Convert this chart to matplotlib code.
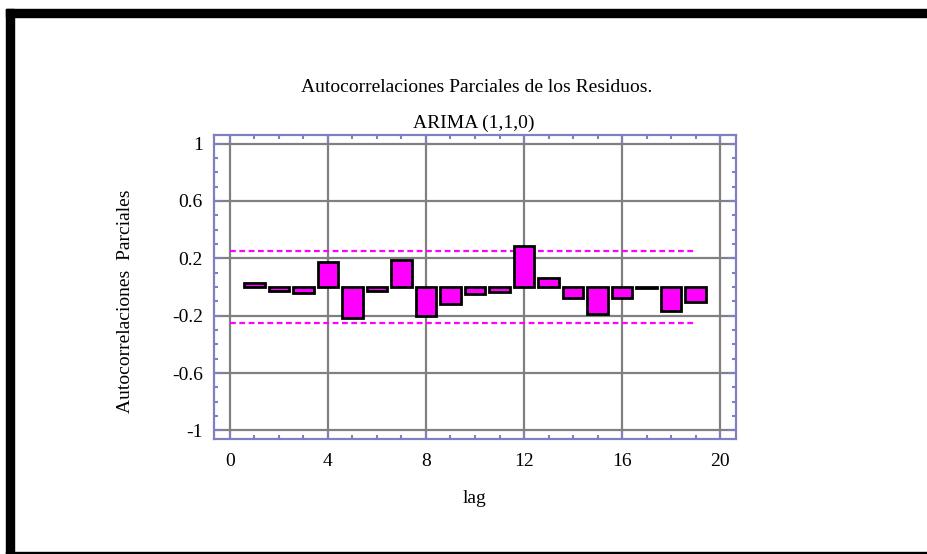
import matplotlib
matplotlib.use("Agg")
import matplotlib.pyplot as plt
from matplotlib.patches import Rectangle
from matplotlib.ticker import MultipleLocator, FixedLocator

plt.rcParams['font.family'] = ['Liberation Serif', 'DejaVu Serif']
plt.rcParams['axes.unicode_minus'] = False

# Partial autocorrelations of the residuals, ARIMA(1,1,0)
lags = list(range(1, 20))
pacf = [0.025, -0.03, -0.045, 0.176, -0.215, -0.03, 0.19, -0.205, -0.122,
        -0.05, -0.036, 0.285, 0.062, -0.078, -0.19, -0.078, -0.01, -0.164, -0.108]
conf_lags = [0, 19]
conf_limit = 0.252

xticks = [0, 4, 8, 12, 16, 20]
yticks = [-1, -0.6, -0.2, 0.2, 0.6, 1]
ytick_labels = ["-1", "-0.6", "-0.2", "0.2", "0.6", "1"]

W, H = 927, 554
fig = plt.figure(figsize=(W / 100, H / 100), dpi=100)
ax = fig.add_axes([214 / W, 1 - 439 / H, 522 / W, 304 / H])

frame_col = '#8080c0'
grid_col = '#808080'

# gray grid box
for x in xticks:
    ax.axvline(x, color=grid_col, lw=1.6, zorder=1)
for y in yticks:
    ax.axhline(y, color=grid_col, lw=1.6, zorder=1)

# confidence limits
for s in (1, -1):
    ax.plot(conf_lags, [s * conf_limit] * 2, color='#ff00ff', lw=1.6,
            linestyle=(0, (2.6, 1.6)), zorder=2)

ax.bar(lags, pacf, width=0.85, color='#ff00ff', edgecolor='black',
       linewidth=2, zorder=3)

ax.set_xlim(-0.65, 20.65)
ax.set_ylim(-1.06, 1.06)

ax.xaxis.set_major_locator(FixedLocator(xticks))
ax.xaxis.set_minor_locator(MultipleLocator(1))
ax.yaxis.set_major_locator(FixedLocator(yticks))
ax.set_yticklabels(ytick_labels)
ax.yaxis.set_minor_locator(MultipleLocator(0.1))

ax.tick_params(which='both', direction='in', top=True, right=True,
               color=frame_col, width=1.5, labelsize=14, labelcolor='black')
ax.tick_params(which='major', length=6)
ax.tick_params(which='minor', length=3)
ax.tick_params(axis='x', pad=10)
ax.tick_params(axis='y', pad=8)

for sp in ax.spines.values():
    sp.set_color(frame_col)
    sp.set_linewidth(1.6)

fig.text(477 / W, 1 - 92 / H, "Autocorrelaciones Parciales de los Residuos.",
         ha='center', va='baseline', fontsize=14)
fig.text(474 / W, 1 - 128 / H, "ARIMA (1,1,0)", ha='center', va='baseline',
         fontsize=14)
fig.text(475 / W, 1 - 503 / H, "lag", ha='center', va='baseline', fontsize=14)
fig.text(125 / W, 1 - 301 / H, "Autocorrelaciones  Parciales", rotation=90,
         ha='center', va='center', fontsize=14)

# black page frame
fig.patches.append(Rectangle((6 / W, 1 - 16.7 / H), 921 / W, 7.7 / H,
                             transform=fig.transFigure, color='black'))
fig.patches.append(Rectangle((6 / W, 0), 8 / W, 1 - 9 / H,
                             transform=fig.transFigure, color='black'))
fig.patches.append(Rectangle((6 / W, 0), 921 / W, 2 / H,
                             transform=fig.transFigure, color='black'))

fig.savefig("out.png", dpi=100)
